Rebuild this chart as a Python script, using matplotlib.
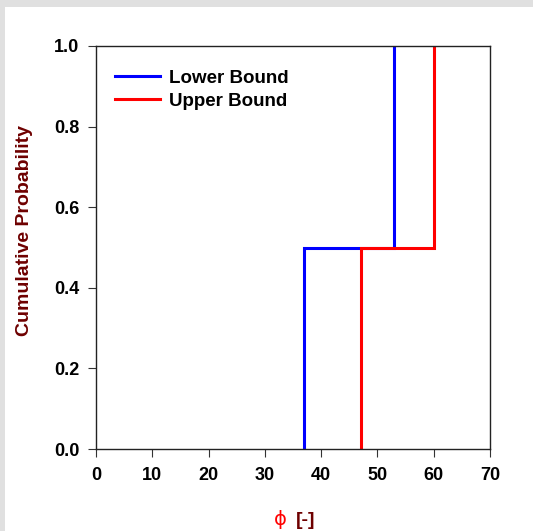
import matplotlib
matplotlib.use("Agg")
import matplotlib.pyplot as plt
from matplotlib.patches import Rectangle

plt.rcParams['font.family'] = ['Liberation Sans', 'DejaVu Sans']

# step points of the two bounding CDFs
lower_x = [37, 37, 53, 53]
lower_p = [0.0, 0.5, 0.5, 1.0]
upper_x = [47, 47, 60, 60]
upper_p = [0.0, 0.5, 0.5, 1.0]

x_ticks = [0, 10, 20, 30, 40, 50, 60, 70]
y_ticks = [0.0, 0.2, 0.4, 0.6, 0.8, 1.0]

fig = plt.figure(figsize=(5.33, 5.31), dpi=100)
fig.patch.set_facecolor('#e0e0e0')
# white panel on the grey background
fig.patches.append(Rectangle((5 / 533, 0), 1, (531 - 7) / 531, transform=fig.transFigure,
                             facecolor='white', edgecolor='none', zorder=-10))

ax = fig.add_axes([96 / 533, 82 / 531, 394 / 533, 403 / 531])
ax.set_facecolor('white')
ax.set_zorder(1)

ax.plot(lower_x, lower_p, color='#0000ff', lw=2.2, label='Lower Bound', solid_joinstyle='miter')
ax.plot(upper_x, upper_p, color='#ff0000', lw=2.2, label='Upper Bound', solid_joinstyle='miter')

ax.set_xlim(0, 70)
ax.set_ylim(0, 1)
ax.set_xticks(x_ticks)
ax.set_yticks(y_ticks)
ax.set_xticklabels([str(t) for t in x_ticks], fontsize=13, fontweight='bold')
ax.set_yticklabels(['%.1f' % t for t in y_ticks], fontsize=13, fontweight='bold')
ax.tick_params(direction='out', length=6, width=0.8, color='#333333')
ax.tick_params(axis='x', pad=7)
ax.tick_params(axis='y', pad=6)

for s in ax.spines.values():
    s.set_linewidth(1.0)
    s.set_color('#222222')

ax.set_ylabel('Cumulative Probability', fontsize=14, fontweight='bold', color='#6e0000')
ax.yaxis.set_label_coords(-0.160, 0.543)

# x label: phi in red, bracket part in dark red
fig.text(0.5385, 0.012, '\u03d5', color='#ff0000', fontsize=14, ha='right', va='baseline',
         family=['DejaVu Sans'])
fig.text(0.555, 0.012, '[-]', color='#6e0000', fontsize=14, fontweight='bold', ha='left', va='baseline')

leg = ax.legend(loc='upper left', frameon=False, fontsize=13.5, handlelength=2.4, handletextpad=0.5,
                borderaxespad=0, labelspacing=0.33, bbox_to_anchor=(0.029, 0.960))
for t in leg.get_texts():
    t.set_fontweight('bold')

fig.savefig('out.png', dpi=100, facecolor=fig.get_facecolor())
